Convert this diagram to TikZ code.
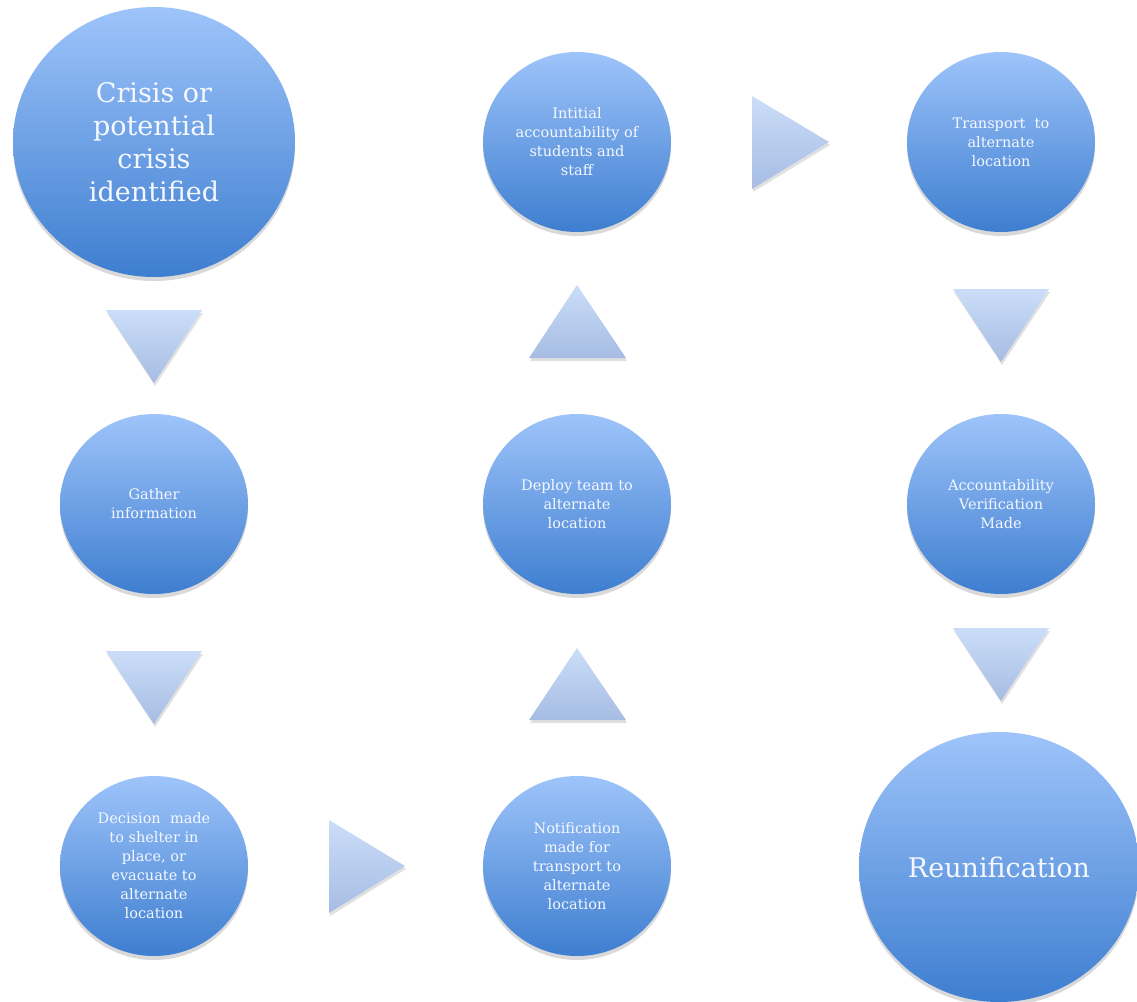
\documentclass[tikz,border=0pt]{standalone}
\usepackage{fontspec}
\setmainfont{DejaVu Serif}
\usetikzlibrary{shadows,shapes.geometric}
\definecolor{ctop}{RGB}{158,196,250}
\definecolor{cbot}{RGB}{62,126,208}
\definecolor{ttop}{RGB}{203,221,248}
\definecolor{tbot}{RGB}{166,188,227}
\definecolor{txt}{RGB}{245,248,255}
\begin{document}
\begin{tikzpicture}[x=1pt,y=-1pt,
  bubble/.style={ellipse, shade, top color=ctop, bottom color=cbot, draw=none,
    text=txt, align=center, inner sep=0pt,
    drop shadow={shadow xshift=0pt, shadow yshift=-4pt, opacity=0.25, fill=black!60}},
  small/.style={bubble, minimum width=188pt, minimum height=180pt, font=\fontsize{14.5}{19}\selectfont},
  big/.style={bubble, minimum width=282pt, minimum height=270pt, font=\fontsize{27}{33}\selectfont},
  tri/.style={top color=ttop, bottom color=tbot, draw=none,
    drop shadow={shadow xshift=1pt, shadow yshift=-3pt, opacity=0.2, fill=black!60}}
]
\useasboundingbox (0,0) rectangle (1137,1001);
\begin{scope}
\clip (0,0) rectangle (1137,1001);
% circles
\node[big] (crisis) at (154,142) {Crisis or\\potential\\crisis\\identified};
\node[small] (gather) at (154,504) {Gather\\information};
\node[small] (decision) at (154,866) {Decision~~made\\to shelter in\\place, or\\evacuate to\\alternate\\location};
\node[small] (initial) at (577,142) {Intitial\\accountability of\\students and\\staff};
\node[small] (deploy) at (577,504) {Deploy team to\\alternate\\location};
\node[small] (notify) at (577,866) {Notification\\made for\\transport to\\alternate\\location};
\node[small] (transport) at (1001,142) {Transport~~to\\alternate\\location};
\node[small] (verify) at (1001,504) {Accountability\\Verification\\Made};
\node[big, minimum width=280pt] (reunion) at (999,867) {Reunification};
% triangles
\path[tri] (106,310) -- (202,310) -- (154,383) -- cycle;
\path[tri] (106,651) -- (202,651) -- (154,724) -- cycle;
\path[tri] (329,820) -- (405,866) -- (329,913) -- cycle;
\path[tri] (529,720) -- (626,720) -- (577,648) -- cycle;
\path[tri] (529,358) -- (626,358) -- (577,285) -- cycle;
\path[tri] (752,96) -- (829,142) -- (752,189) -- cycle;
\path[tri] (953,289) -- (1049,289) -- (1001,362) -- cycle;
\path[tri] (953,628) -- (1049,628) -- (1001,701) -- cycle;
\end{scope}
\end{tikzpicture}
\end{document}
